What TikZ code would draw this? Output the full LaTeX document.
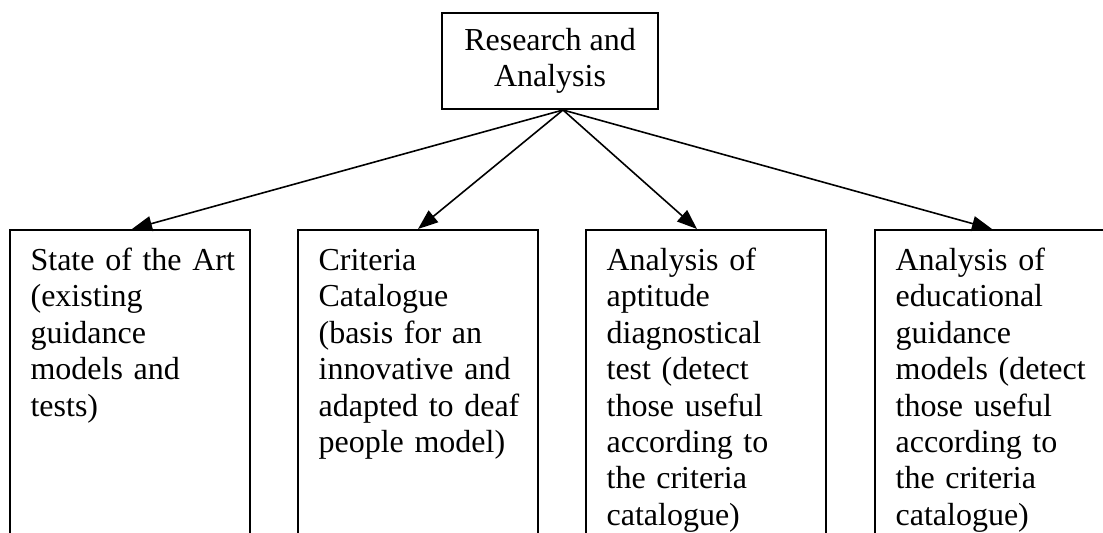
\documentclass[tikz,border=0pt]{standalone}
\usepackage{fontspec}
\setmainfont{Liberation Serif}
\usetikzlibrary{arrows.meta}

\tikzset{
  topbox/.style={draw,shape=rectangle,line width=0.8pt,minimum width=108pt,minimum height=48pt,align=center,inner sep=0pt},
  colbox/.style={draw,shape=rectangle,line width=0.8pt,minimum width=120pt,minimum height=170pt,anchor=north,inner sep=0pt},
  coltext/.style={anchor=north west,align=left,text width=108pt,inner xsep=10.5pt,inner ysep=7.8pt},
  arr/.style={-{Triangle[length=10pt,width=7.5pt]},line width=0.8pt}
}

\begin{document}
\begin{tikzpicture}[x=0.5pt,y=-0.5pt,font=\fontsize{16}{18.2}\selectfont]
		\useasboundingbox (0,0) rectangle (1103,533);
		
		\node[topbox] (ra) at (550,61) {Research and\\Analysis};
		\coordinate (fork) at (563,110);
		
		\node[colbox] (sota) at (130,229) {};
		\node[colbox] (crit) at (418,229) {};
		\node[colbox] (apt) at (706,229) {};
		\node[colbox] (edu) at (995,229) {};
		
		\node[coltext] (sotatxt) at (sota.north west) {\strut State of the Art\\(existing\\guidance\\models and\\tests)};
		\node[coltext] (crittxt) at (crit.north west) {\strut Criteria\\Catalogue\\(basis for an\\innovative and\\adapted to deaf\\people model)};
		\node[coltext] (apttxt) at (apt.north west) {\strut Analysis of\\aptitude\\diagnostical\\test (detect\\those useful\\according to\\the criteria\\catalogue)};
		\node[coltext] (edutxt) at (edu.north west) {\strut Analysis of\\educational\\guidance\\models (detect\\those useful\\according to\\the criteria\\catalogue)};
		
		\draw[arr] (fork) -- ([xshift=1pt]sota.north);
		\draw[arr] (fork) -- (crit.north);
		\draw[arr] (fork) -- ([xshift=-4.5pt]apt.north);
		\draw[arr] (fork) -- ([xshift=-1.5pt]edu.north);
\end{tikzpicture}
\end{document}
